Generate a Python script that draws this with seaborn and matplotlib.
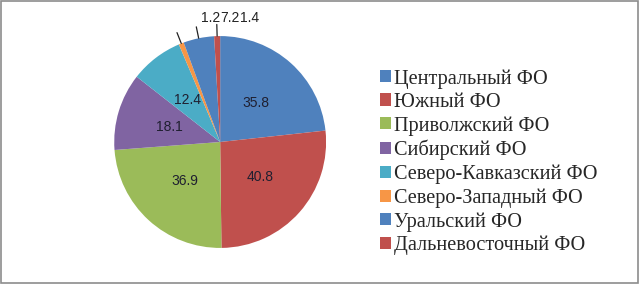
import numpy as np
import matplotlib
matplotlib.use("Agg")
import matplotlib.pyplot as plt
from matplotlib.font_manager import FontProperties
import seaborn as sns

districts = ["Центральный ФО", "Южный ФО", "Приволжский ФО", "Сибирский ФО",
             "Северо-Кавказский ФО", "Северо-Западный ФО", "Уральский ФО",
             "Дальневосточный ФО"]
values = [35.8, 40.8, 36.9, 18.1, 12.4, 1.2, 7.2, 1.4]
colors = ["#4F81BD", "#C0504D", "#9BBB59", "#8064A2",
          "#4BACC6", "#F79646", "#4F81BD", "#C0504D"]

sns.set_style("white")

fig = plt.figure(figsize=(6.4, 2.84), dpi=100)
ax = fig.add_axes([0.177, 0.127, 0.334, 0.746])

wedges, _ = ax.pie(values, colors=colors, startangle=90, counterclock=False,
                   wedgeprops=dict(linewidth=0))
ax.set_xlim(-1, 1)
ax.set_ylim(-1, 1)
ax.set_aspect("equal")

# labels: inside for big slices, above with leader lines for the small ones
small_pos = {5: -0.09, 6: 0.095, 7: 0.28}
for i, (w, v) in enumerate(zip(wedges, values)):
    ang = np.deg2rad((w.theta1 + w.theta2) / 2)
    x, y = np.cos(ang), np.sin(ang)
    if i in small_pos:
        ax.plot([x, 1.11 * x], [y, 1.11 * y], color="#222222", lw=0.9,
                clip_on=False)
        ax.text(small_pos[i], 1.17, f"{v}", ha="center", va="center",
                fontsize=10, family="Liberation Sans", color="#222222")
    else:
        ax.text(0.5 * x, 0.5 * y, f"{v}", ha="center", va="center",
                fontsize=10, family="Liberation Sans", color="#1F1F30")

fig.legend(wedges, districts, loc="center left",
           bbox_to_anchor=(0.593, 0.429), frameon=False,
           prop=FontProperties(family="Liberation Serif", size=14.6),
           handlelength=0.55, handleheight=0.55, handletextpad=0.15,
           labelspacing=0.21, borderaxespad=0, borderpad=0)

# outer frame of the picture
fig.add_artist(plt.Rectangle((0.002, 0.004), 0.995, 0.992, transform=fig.transFigure,
                             fill=False, edgecolor="#8C8C8C", lw=1.2))

fig.savefig("out.png", dpi=100)
